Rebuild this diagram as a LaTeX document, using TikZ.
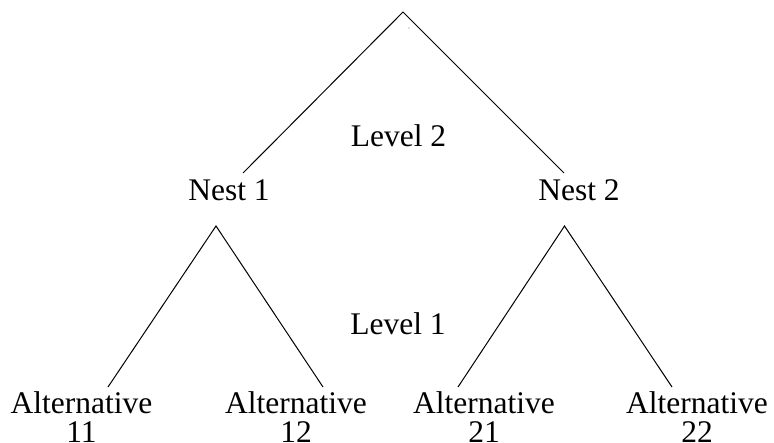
\documentclass[tikz,border=0pt]{standalone}
\usepackage{fontspec}
\setmainfont{Liberation Serif}
\begin{document}
\begin{tikzpicture}[x=1pt,y=-1pt,
  lbl/.style={font=\fontsize{31.5}{28.5}\selectfont, inner sep=0pt, anchor=base},
  alt/.style={lbl, align=center},
  edge/.style={line width=1pt, black}]
\useasboundingbox (0,0) rectangle (774,442);
\coordinate (top) at (403,12);
\node[lbl] (level2) at (398.5,146) {Level 2};
\node[lbl] (level1) at (398,334) {Level 1};
\node[lbl] (nest1) at (229,200) {Nest 1};
\node[lbl] (nest2) at (579,200) {Nest 2};
\coordinate (n1t) at (243,173);
\coordinate (n2t) at (564,173);
\coordinate (n1b) at (216,226);
\coordinate (n2b) at (564.5,226);
\coordinate (a11t) at (108,387);
\coordinate (a12t) at (323,387);
\coordinate (a21t) at (458,387);
\coordinate (a22t) at (672,387);
\node[alt] (a11) at (81.5,442) {Alternative\\11};
\node[alt] (a12) at (296,442) {Alternative\\12};
\node[alt] (a21) at (484,442) {Alternative\\21};
\node[alt] (a22) at (697,442) {Alternative\\22};
\draw[edge] (n1t) -- (top) -- (n2t);
\draw[edge] (a11t) -- (n1b) -- (a12t);
\draw[edge] (a21t) -- (n2b) -- (a22t);
\fill[gray] (409,28) circle (0.6);
\end{tikzpicture}
\end{document}
